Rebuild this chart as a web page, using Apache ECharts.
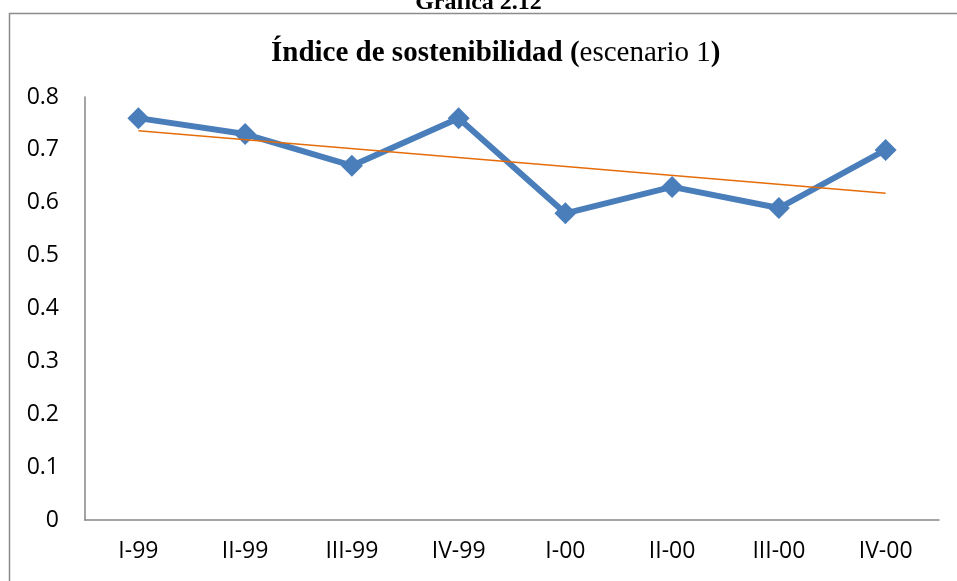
<!DOCTYPE html>
<html>
<head>
<meta charset="utf-8">
<script src="https://cdn.jsdelivr.net/npm/echarts@6/dist/echarts.min.js"></script>
<style>
  html, body { margin: 0; padding: 0; background: #fff; }
  #main { width: 957px; height: 581px; }
</style>
</head>
<body>
<div id="main"></div>
<script>
// quarters
const categories = ["I-99", "II-99", "III-99", "IV-99", "I-00", "II-00", "III-00", "IV-00"];
// sustainability index, scenario 1
const indexValues = [0.76, 0.73, 0.67, 0.76, 0.58, 0.63, 0.59, 0.70];
// linear trend, read at first and last quarter
const trendValues = [0.736, null, null, null, null, null, null, 0.618];
const yTicks = [0, 0.1, 0.2, 0.3, 0.4, 0.5, 0.6, 0.7, 0.8];

let chartDom = document.getElementById("main");
let myChart = echarts.init(chartDom);
let option;

option = {
  animation: false,
  title: {
    text: "{b|Índice de sostenibilidad (}{n|escenario 1}{b|)}",
    left: 266,
    top: 34,
    textStyle: {
      rich: {
        b: { fontFamily: "Liberation Serif", fontWeight: "bold", fontSize: 29, color: "#000" },
        n: { fontFamily: "Liberation Serif", fontWeight: "normal", fontSize: 29, color: "#000" },
      },
    },
  },
  graphic: [
    {
      type: "rect",
      shape: { x: 9.5, y: 13.5, width: 1000, height: 700 },
      style: { fill: "none", stroke: "#8c8c8c", lineWidth: 1.5 },
      silent: true,
    },
    {
      type: "text",
      left: "center",
      top: -9,
      style: {
        text: "Gráfica 2.12",
        font: "bold 24px 'Liberation Serif'",
        fill: "#000",
      },
    },
  ],
  grid: { left: 85, right: 18, top: 97, bottom: 61 },
  xAxis: {
    type: "category",
    data: categories,
    boundaryGap: true,
    axisLine: { lineStyle: { color: "#868686", width: 1.5 } },
    axisTick: { show: false },
    axisLabel: { color: "#000", fontSize: 23, fontFamily: "Open Sans", margin: 20 },
  },
  yAxis: {
    type: "value",
    min: yTicks[0],
    max: yTicks[yTicks.length - 1],
    interval: 0.1,
    axisLine: { show: true, lineStyle: { color: "#868686", width: 1.5 } },
    axisTick: { show: false },
    splitLine: { show: false },
    axisLabel: { color: "#000", fontSize: 23, fontFamily: "Open Sans", margin: 26 },
  },
  series: [
    {
      type: "line",
      data: trendValues,
      connectNulls: true,
      symbol: "none",
      lineStyle: { color: "#E46C0A", width: 1.5 },
      z: 3,
    },
    {
      type: "line",
      data: indexValues,
      symbol: "diamond",
      symbolSize: 22,
      itemStyle: { color: "#4A7EBB" },
      lineStyle: { color: "#4A7EBB", width: 6 },
      z: 2,
    },
  ],
};
option && myChart.setOption(option);
</script>
</body>
</html>
